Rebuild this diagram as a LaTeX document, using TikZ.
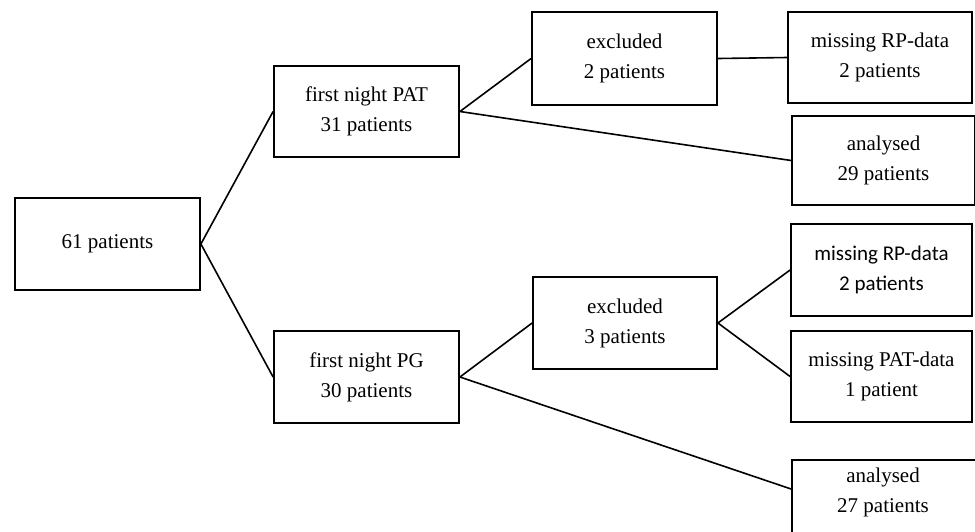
\documentclass[tikz,border=0pt]{standalone}
\usepackage{fontspec}
\setmainfont{Liberation Serif}
\newfontfamily\calibrifont{Carlito}
\begin{document}
\begin{tikzpicture}[x=1pt,y=-1pt,
  box/.style={draw=black,line width=1.8pt,rectangle,inner sep=0pt,align=center,
    minimum width=185pt,minimum height=92pt,
    font=\fontsize{21}{30}\selectfont},
  conn/.style={draw=black,line width=1.6pt}]
\useasboundingbox (0,0) rectangle (975,531);
\clip (0,0) rectangle (975,531);
\node[box] (all) at (107.5,244) {\raisebox{-2pt}{61 patients}};
\node[box,minimum height=91pt] (pat) at (366.5,111.5) {first night PAT\\31 patients};
\node[box] (pg) at (366.5,377) {first night PG\\30 patients};
\node[box,minimum height=93pt] (ex2) at (624.5,58.5) {excluded\\2 patients};
\node[box,minimum width=184pt] (ex3) at (625,323) {excluded\\3 patients};
\node[box,minimum width=184pt,minimum height=91pt] (mrp1) at (880,57.5) {missing RP-data\\2 patients};
\node[box,minimum width=183pt,minimum height=89pt] (an29) at (883.5,160.5) {analysed\\29 patients};
\node[box,minimum width=181pt,font=\calibrifont\fontsize{21}{30}\selectfont] (mrp2) at (881.5,270) {missing RP-data\\2 patients};
\node[box,minimum width=181pt,minimum height=91pt] (mpat) at (881.5,376.5) {missing PAT-data\\1 patient};
\node[box,minimum width=186pt,minimum height=91pt] (an27box) at (885,505.5) {};
\node[align=center,inner sep=0pt,font=\fontsize{21}{30}\selectfont] (an27) at (883,492) {analysed\\27 patients};
\coordinate (an27in) at (an27box.west |- 0,489);
\draw[conn] (all.east) -- (pat.west);
\draw[conn] (all.east) -- (pg.west);
\draw[conn] (pat.east) -- (ex2.west);
\draw[conn] (pat.east) -- (an29.west);
\draw[conn] (ex2.east) -- (mrp1.west);
\draw[conn] (pg.east) -- (ex3.west);
\draw[conn] (pg.east) -- (an27in);
\draw[conn] (ex3.east) -- (mrp2.west);
\draw[conn] (ex3.east) -- (mpat.west);
\end{tikzpicture}
\end{document}
